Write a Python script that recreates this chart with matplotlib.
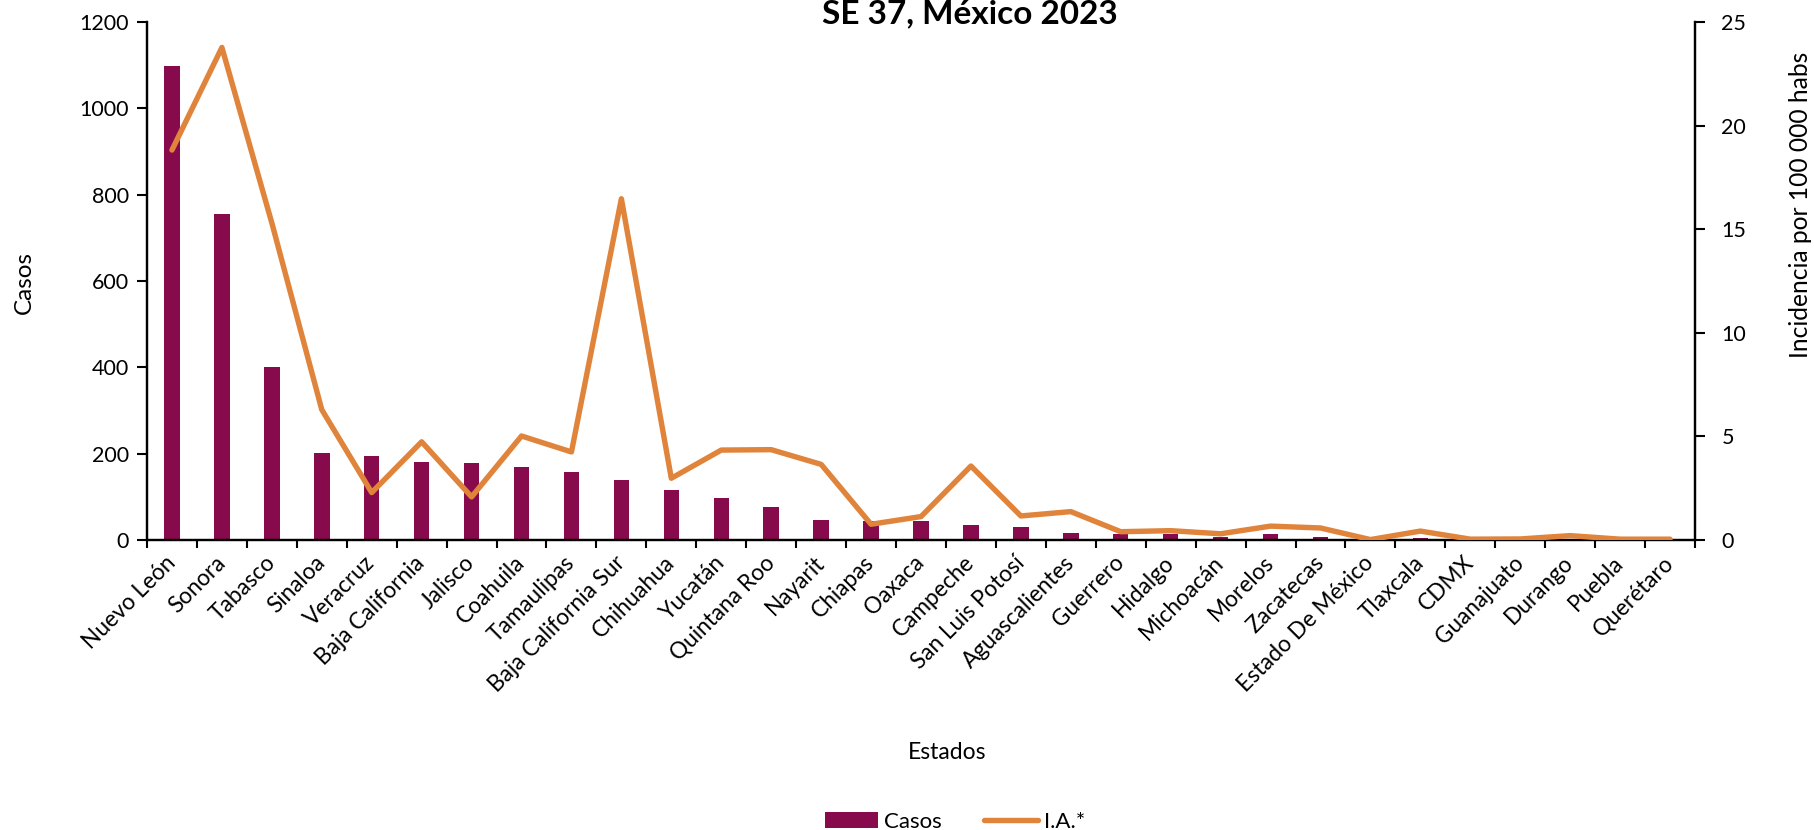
import matplotlib
matplotlib.use("Agg")
import matplotlib.pyplot as plt
from matplotlib.ticker import FixedLocator, NullFormatter
from matplotlib.patches import Patch
from matplotlib.lines import Line2D

estados = ["Nuevo León", "Sonora", "Tabasco", "Sinaloa", "Veracruz", "Baja California",
           "Jalisco", "Coahuila", "Tamaulipas", "Baja California Sur", "Chihuahua", "Yucatán",
           "Quintana Roo", "Nayarit", "Chiapas", "Oaxaca", "Campeche", "San Luis Potosí",
           "Aguascalientes", "Guerrero", "Hidalgo", "Michoacán", "Morelos", "Zacatecas",
           "Estado De México", "Tlaxcala", "CDMX", "Guanajuato", "Durango", "Puebla", "Querétaro"]
casos = [1097, 755, 401, 202, 195, 180, 179, 169, 158, 139, 116, 98,
         77, 47, 44, 45, 35, 31, 17, 13, 13, 7, 13, 7,
         1, 4, 1, 1, 2, 1, 1]
incidencia = [18.82, 23.77, 15.3, 6.29, 2.29, 4.74, 2.08, 5.02, 4.25, 16.47, 2.98, 4.34,
              4.36, 3.65, 0.76, 1.13, 3.57, 1.16, 1.37, 0.40, 0.45, 0.30, 0.67, 0.58,
              0.02, 0.43, 0.04, 0.05, 0.21, 0.04, 0.04]

titulo = "SE 37, México 2023"
bar_color = "#870A4D"
line_color = "#E0843B"
FONT = "Lato"

plt.rcParams["font.family"] = [FONT, "DejaVu Sans"]

W, H = 1814, 830
fig = plt.figure(figsize=(W / 100, H / 100), dpi=100)
L, R, B, T = 147, 1695, 540, 22
ax = fig.add_axes([L / W, 1 - B / H, (R - L) / W, (B - T) / H])
ax2 = ax.twinx()

x = list(range(len(estados)))
ax.bar(x, casos, width=0.31, color=bar_color, zorder=2)
ax2.plot(x, incidencia, color=line_color, lw=3.9, solid_capstyle="round",
         solid_joinstyle="round", zorder=3)

ax.set_xlim(-0.5, len(estados) - 0.5)
ax.set_ylim(0, 1200)
ax2.set_ylim(0, 25)
ax.set_yticks(range(0, 1201, 200))
ax2.set_yticks(range(0, 26, 5))

ax.set_xticks(x)
ax.set_xticklabels(estados, rotation=45, ha="right", va="center",
                   rotation_mode="anchor", fontsize=16.3)
ax.tick_params(axis="x", which="major", length=0, pad=14)
ax.xaxis.set_minor_locator(FixedLocator([i - 0.5 for i in range(len(estados) + 1)]))
ax.xaxis.set_minor_formatter(NullFormatter())
ax.tick_params(axis="x", which="minor", length=6, width=1.5, direction="out", color="black")

ax.tick_params(axis="y", length=7, width=1.5, direction="out", labelsize=15.5, pad=6)
ax2.tick_params(axis="y", length=7, width=1.5, direction="out", labelsize=15.5, pad=12)

for a in (ax, ax2):
    a.spines["top"].set_visible(False)
    for s in ("left", "right", "bottom"):
        a.spines[s].set_linewidth(1.6)
        a.spines[s].set_color("black")
ax.patch.set_visible(False)
ax2.patch.set_visible(False)
ax.set_zorder(1)
ax2.set_zorder(2)

fig.text(970 / W, 1 - 23 / H, titulo, ha="center", va="baseline",
         fontsize=24, fontweight="bold")
fig.text(24 / W, 1 - 282 / H, "Casos", rotation=90, ha="center", va="center", fontsize=17.5)
fig.text(1800 / W, 1 - 205 / H, "Incidencia por 100 000 habs", rotation=90,
         ha="center", va="center", fontsize=17.7)
fig.text(947 / W, 1 - 752 / H, "Estados", ha="center", va="center", fontsize=16.5)

handles = [Patch(facecolor=bar_color, edgecolor="none"),
           Line2D([0], [0], color=line_color, lw=3.9, solid_capstyle="round")]
fig.legend(handles, ["Casos", "I.A.*"], loc="center", ncol=2, frameon=False,
           bbox_to_anchor=(955 / W, 1 - 822 / H), fontsize=16,
           handlelength=2.4, handleheight=0.7, handletextpad=0.27,
           columnspacing=1.9, borderpad=0, borderaxespad=0)

fig.savefig("out.png", dpi=100)
